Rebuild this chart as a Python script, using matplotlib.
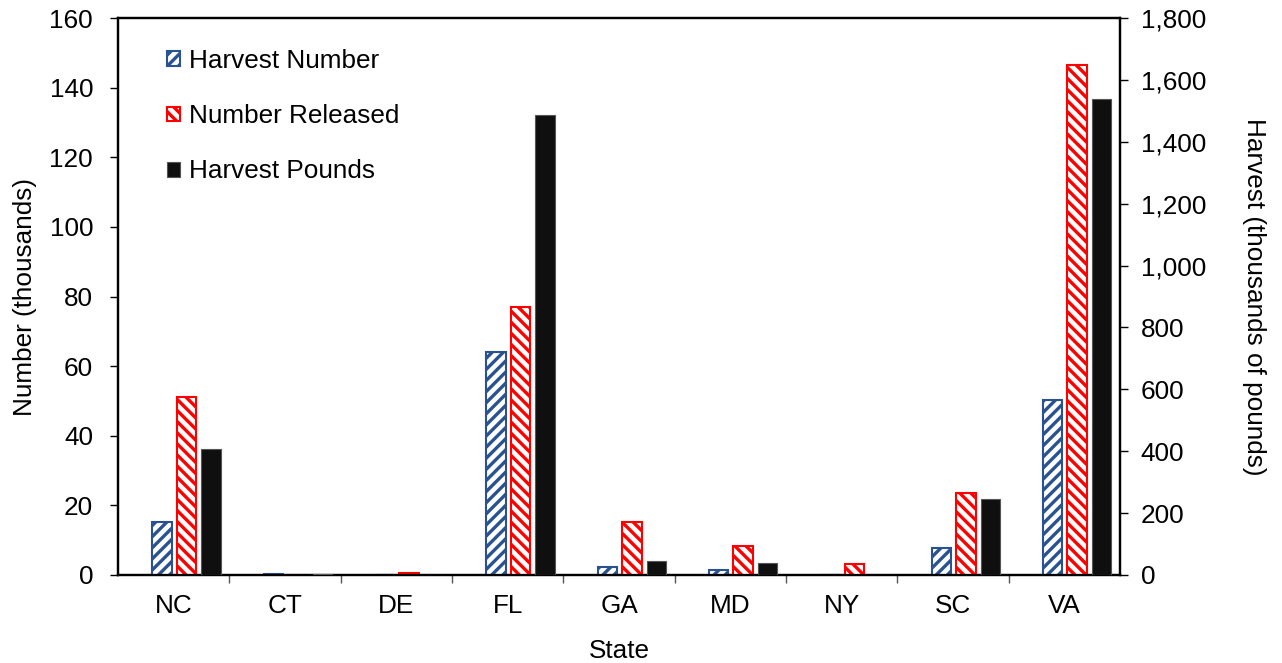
import matplotlib
matplotlib.use("Agg")
import matplotlib.pyplot as plt
import numpy as np
from matplotlib.ticker import FuncFormatter, FixedLocator, NullFormatter

states = ["NC", "CT", "DE", "FL", "GA", "MD", "NY", "SC", "VA"]
harvest_number = [15.1, 0.2, 0.0, 64.0, 2.2, 1.4, 0.0, 7.8, 50.4]      # thousands of fish
number_released = [51.2, 0.0, 0.7, 77.1, 15.1, 8.3, 3.1, 23.5, 146.6]   # thousands of fish
harvest_pounds = [408, 2, 0, 1487, 46, 40, 0, 247, 1539]               # thousands of pounds

plt.rcParams['font.family'] = ['Liberation Sans', 'DejaVu Sans']
plt.rcParams['hatch.linewidth'] = 2.4

FS = 18.8
fig = plt.figure(figsize=(12.82, 6.63), dpi=100)
ax = fig.add_axes([118/1282, 1-575/663, (1120-118)/1282, (575-18)/663])
ax2 = ax.twinx()

x = np.arange(len(states))
w = 0.175
blue = "#2A5290"
red = "#FF0000"

ax.bar(x - 0.105, harvest_number, width=w, facecolor="white", edgecolor=blue,
       hatch="///", linewidth=1.5, label="Harvest Number", zorder=3)
ax.bar(x + 0.115, number_released, width=w, facecolor="white", edgecolor=red,
       hatch="\\\\\\", linewidth=1.5, label="Number Released", zorder=3)
ax2.bar(x + 0.335, harvest_pounds, width=w, facecolor="#0F0F0F", edgecolor="#555555",
        linewidth=0.8, label="Harvest Pounds", zorder=3)

ax.set_xlim(-0.5, len(states) - 0.5)
ax.set_ylim(0, 160)
ax2.set_ylim(0, 1800)
ax.set_yticks(np.arange(0, 161, 20))
ax2.set_yticks(np.arange(0, 1801, 200))
ax2.yaxis.set_major_formatter(FuncFormatter(lambda v, p: f"{int(v):,}"))

ax.set_xticks(x)
ax.set_xticklabels(states)
ax.xaxis.set_minor_locator(FixedLocator(np.arange(0.5, len(states) - 0.5, 1)))
ax.xaxis.set_minor_formatter(NullFormatter())
ax.tick_params(axis='x', which='major', length=0, pad=14, labelsize=FS)
ax.tick_params(axis='x', which='minor', length=6, width=1, color="#555555", direction='out')
ax.tick_params(axis='y', length=6, width=1, labelsize=FS, direction='out', pad=12)
ax2.tick_params(axis='y', length=6, width=1, labelsize=FS, direction='out', pad=9)

for a in (ax, ax2):
    for s in a.spines.values():
        s.set_linewidth(1.6)
        s.set_color("black")

ax.set_xlabel("State", fontsize=FS, labelpad=15)
ax.set_ylabel("Number (thousands)", fontsize=FS, labelpad=9)
ax2.set_ylabel("Harvest (thousands of pounds)", fontsize=FS, rotation=270, labelpad=43)

h1, l1 = ax.get_legend_handles_labels()
h2, l2 = ax2.get_legend_handles_labels()
leg = ax2.legend(h1 + h2, l1 + l2, loc="upper left", bbox_to_anchor=(0.049, 0.944),
                 frameon=False, fontsize=FS, handlelength=0.5, handleheight=0.5,
                 handletextpad=0.32, labelspacing=1.19, borderpad=0, borderaxespad=0)

fig.savefig("out.png", dpi=100)
